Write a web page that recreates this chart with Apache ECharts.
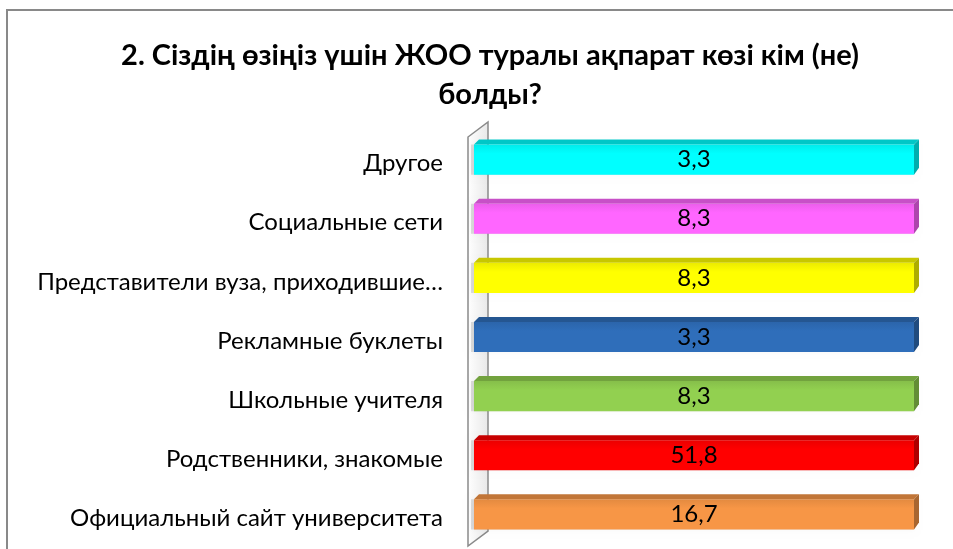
<!DOCTYPE html>
<html><head><meta charset="utf-8">
<script src="https://cdn.jsdelivr.net/npm/echarts@6/dist/echarts.min.js"></script>
<style>html,body{margin:0;padding:0;background:#fff}#c{width:953px;height:549px}</style>
</head><body><div id="c"></div>
<script>
const titleText = '2. Сіздің өзіңіз үшін ЖОО туралы ақпарат көзі кім (не)\nболды?';
const categories = ['Другое','Социальные сети','Представители вуза, приходившие…','Рекламные буклеты','Школьные учителя','Родственники, знакомые','Официальный сайт университета'];
const values = [3.3, 8.3, 8.3, 3.3, 8.3, 51.8, 16.7];
const barColors = ['#00FFFF','#FF66FF','#FFFF00','#2F6EBA','#92D050','#FF0000','#F79646'];
// single-series 100% stacked chart: each bar fills its own category
const shares = values.map(v => v / v * 100);

const FONT = 'Lato, "Open Sans", sans-serif';
function shade(hex, f) {
  const n = parseInt(hex.slice(1), 16);
  const r = Math.round(((n >> 16) & 255) * f), g = Math.round(((n >> 8) & 255) * f), b = Math.round((n & 255) * f);
  return 'rgb(' + r + ',' + g + ',' + b + ')';
}
const chart = echarts.init(document.getElementById('c'));
const GL = 474, GT = 127, GH = 414, GR = 33;
const D = 5;
function renderBar(params, api) {
  const idx = api.value(1);
  const s = api.coord([0, idx]);
  const e = api.coord([api.value(0), idx]);
  const band = api.size([0, 1])[1];
  const h = band * 0.51;
  const c = barColors[params.dataIndex];
  const x0 = s[0], x1 = e[0] - D - 1;
  const y0 = s[1] - h / 2 + 3, y1 = s[1] + h / 2 + 3;
  return {
    type: 'group',
    children: [
      {type:'rect', shape:{x:x0-3, y:y0, width:x1-x0+3, height:h}, style:{fill:'rgba(0,0,0,0.12)', shadowBlur:6, shadowColor:'rgba(0,0,0,0.25)'}, z2:1},
      {type:'polygon', shape:{points:[[x0,y0],[x0+D,y0-D],[x1+D,y0-D],[x1,y0]]}, style:{fill:shade(c, 0.78)}, z2:2},
      {type:'polygon', shape:{points:[[x1,y0],[x1+D,y0-D],[x1+D,y1-D-2],[x1,y1]]}, style:{fill:shade(c, 0.68)}, z2:2},
      {type:'rect', shape:{x:x0, y:y0, width:x1-x0, height:h},
        style:{fill:new echarts.graphic.LinearGradient(0,0,0,1,[{offset:0,color:shade(c,0.92)},{offset:0.3,color:c},{offset:1,color:c}])}, z2:3},
      {type:'text', style:{text:values[params.dataIndex].toFixed(1).replace('.', ','), x:(x0+x1)/2, y:(y0+y1)/2, align:'center', verticalAlign:'middle', fill:'#000', font:'24px ' + FONT}, z2:4},
      {type:'text', style:{text:categories[params.dataIndex], x:x0 - 31, y:s[1] + 7, align:'right', verticalAlign:'middle', fill:'#000', font:'24px ' + FONT}, z2:4}
    ]
  };
}
chart.setOption({
  animation: false,
  title: {text: titleText, left: 485, top: 31, textAlign: 'center',
    textStyle: {fontFamily: FONT, fontWeight: 'bold', fontSize: 29, lineHeight: 39, color: '#000'}},
  grid: {left: GL, top: GT, height: GH, right: GR},
  xAxis: {type: 'value', min: 0, max: 100, show: false},
  yAxis: {type: 'category', data: categories, inverse: true,
    axisLine: {show: false}, axisTick: {show: false}, axisLabel: {show: false}},
  series: [{type: 'custom', renderItem: renderBar, encode: {x: 0, y: 1},
    data: shares.map((v, i) => [v, i]), z: 5}]
});
// frame and side wall
chart.setOption({graphic: [
  {type:'rect', shape:{x:7, y:10, width:980, height:600}, style:{fill:'none', stroke:'#898989', lineWidth:2}, z:0},
  {type:'polygon', shape:{points:[[468,137],[488,122],[488,531],[468,546]]},
    style:{fill:new echarts.graphic.LinearGradient(0,0,1,0,[{offset:0,color:'#ffffff'},{offset:1,color:'#e8e8e8'}]), stroke:'#8a8a8a', lineWidth:1.5}, z:1}
]});
</script></body></html>
